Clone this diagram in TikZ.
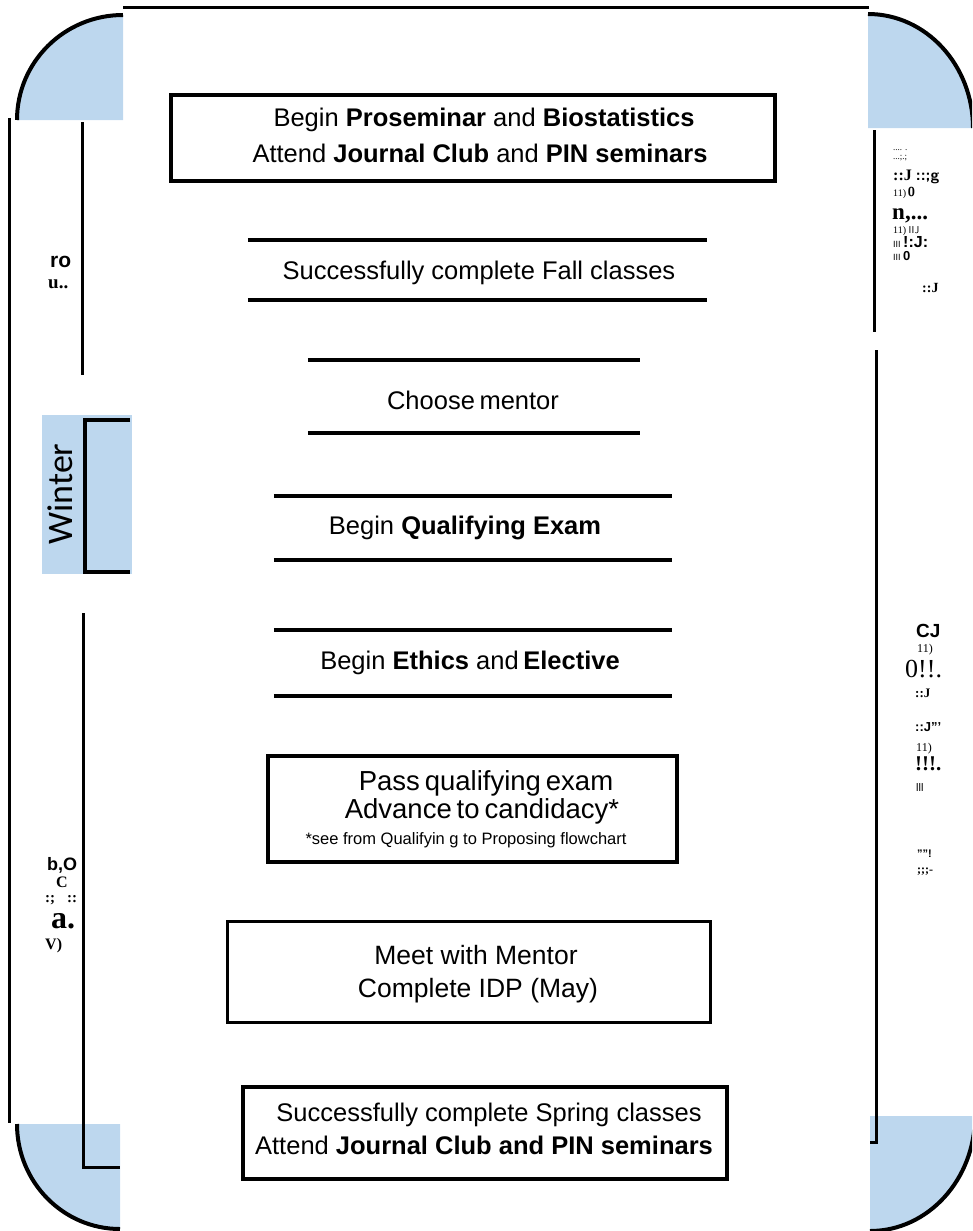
\documentclass[tikz,border=0pt]{standalone}
\usepackage{fontspec}
\setmainfont{Liberation Sans}
\newfontfamily\lserif{Liberation Serif}
\newfontfamily\carl{Carlito}
\definecolor{pale}{RGB}{189,215,238}
\newcommand\fs[1]{\fontsize{#1}{#1}\selectfont}
\newcommand\nsp{\hspace{0.18em}}

\begin{document}
\begin{tikzpicture}[x=1pt,y=-1pt,
  frame/.style={line width=3pt},
  rule/.style={line width=4pt},
  arcline/.style={line width=4pt},
  season/.style={fill=pale,draw=none},
  slot/.style={draw=none,inner sep=0pt},
  lbl/.style={inner sep=0pt,anchor=base,font=\fs{25.5}},
  junk/.style={inner sep=0pt,anchor=base west}]

\useasboundingbox (0,0) rectangle (972,1231);

% ---------- rounded season corners ----------
\begin{scope}
\clip (0,0) rectangle (972,1231);
\fill[season] (123,120) -- (17,120) arc[start angle=180,end angle=270,x radius=106,y radius=105] -- cycle;
\draw[arcline] (17,120) arc[start angle=180,end angle=270,x radius=106,y radius=105];
\fill[season] (868,128) -- (868,14) arc[start angle=270,end angle=360,x radius=105,y radius=114] -- cycle;
\draw[arcline] (868,14) arc[start angle=270,end angle=360,x radius=105,y radius=114];
\fill[season] (870,1116) -- (975,1116) arc[start angle=0,end angle=90,x radius=105,y radius=115] -- cycle;
\draw[arcline] (975,1116) arc[start angle=0,end angle=90,x radius=105,y radius=115];
\fill[season] (120,1124) -- (120,1229) arc[start angle=90,end angle=180,x radius=103,y radius=105] -- cycle;
\draw[arcline] (120,1229) arc[start angle=90,end angle=180,x radius=103,y radius=105];
\end{scope}

% ---------- frame lines ----------
\draw[frame] (123,8) -- (869,8);
\draw[frame] (9,118) -- (9,1123);
\draw[frame] (82,122) -- (82,375);
\draw[frame] (83,613) -- (83,1167) -- (120,1167);
\draw[frame] (874,130) -- (874,332);
\draw[frame] (876,350) -- (876,1142) -- (870,1142);

% ---------- winter tab ----------
\fill[season] (42,415) rectangle (132,574);
\draw[line width=3.5pt] (130,420) -- (85,420) -- (85,572) -- (130,572);
\node[inner sep=0pt,rotate=90,font=\carl\fs{36}] (winter) at (60,494) {Winter};

% ---------- step boxes ----------
\node[slot,minimum width=604pt,minimum height=86pt] (b1) at (473,138) {};
\draw[line width=3.5pt] (b1.north west) rectangle (b1.south east);
\node[lbl] (b1a) at (484,126) {Begin \textbf{Proseminar} and \textbf{Biostatistics}};
\node[lbl] (b1b) at (480,162) {Attend \textbf{Journal Club} and \textbf{PIN seminars}};

\node[slot,minimum width=459pt,minimum height=60pt] (b2) at (477.5,270) {};
\draw[rule] (b2.north west) -- (b2.north east) (b2.south west) -- (b2.south east);
\node[lbl] (b2a) at (479,279) {Successfully complete Fall classes};

\node[slot,minimum width=332pt,minimum height=73pt] (b3) at (474,396.5) {};
\draw[rule] (b3.north west) -- (b3.north east) (b3.south west) -- (b3.south east);
\node[lbl] (b3a) at (473,409) {Choose\nsp mentor};

\node[slot,minimum width=398pt,minimum height=64pt] (b4) at (473,528) {};
\draw[rule] (b4.north west) -- (b4.north east) (b4.south west) -- (b4.south east);
\node[lbl] (b4a) at (465,534) {Begin \textbf{Qualifying Exam}};

\node[slot,minimum width=398pt,minimum height=66pt] (b5) at (473,663) {};
\draw[rule] (b5.north west) -- (b5.north east) (b5.south west) -- (b5.south east);
\node[lbl] (b5a) at (470,669) {Begin \textbf{Ethics} and\nsp\textbf{Elective}};

\node[slot,minimum width=409pt,minimum height=106pt] (b6) at (472.5,809) {};
\draw[rule] (b6.north west) rectangle (b6.south east);
\node[lbl,font=\fs{27.5}] (b6a) at (486,790) {Pass\nsp qualifying\nsp exam};
\node[lbl,font=\fs{27.5}] (b6b) at (482,818) {Advance\nsp to\nsp candidacy*};
\node[lbl,font=\fs{16.5}] (b6c) at (466,844) {*see from Qualifyin g to Proposing flowchart};

\node[slot,minimum width=482pt,minimum height=100pt] (b7) at (469,972) {};
\draw[line width=3pt] (b7.north west) rectangle (b7.south east);
\node[lbl,font=\fs{26.5}] (b7a) at (476,964.5) {Meet with Mentor};
\node[lbl,font=\fs{26.5}] (b7b) at (478,997.5) {Complete IDP (May)};

\node[slot,minimum width=484pt,minimum height=92pt] (b8) at (485,1133) {};
\draw[rule] (b8.north west) rectangle (b8.south east);
\node[lbl] (b8a) at (489,1121) {Successfully complete Spring classes};
\node[lbl] (b8b) at (484,1154) {Attend \textbf{Journal Club and PIN seminars}};

% ---------- side season labels ----------
\node[junk,font=\lserif\fs{9}] (r1) at (893,150) {.... .};
\node[junk,font=\lserif\fs{9}] (r2) at (893,159) {...;.;};
\node[junk,font=\lserif\bfseries\fs{16}] (r3) at (893,180) {::J \textsf{::;g}};
\node[junk,font=\lserif\fs{10}] (r4) at (893,196) {11)\,\textsf{\bfseries\fs{13}0}};
\node[junk,font=\lserif\bfseries\fs{23}] (r5) at (892,219) {n,...};
\node[junk,font=\lserif\fs{10}] (r6) at (893,233) {11) \textsf{IIJ}};
\node[junk,font=\fs{9}] (r7) at (893,247) {III \textbf{\fs{16}!:J:}};
\node[junk,font=\fs{9}] (r8) at (893,260) {III \textbf{\fs{13}0}};
\node[junk,font=\lserif\bfseries\fs{14}] (r9) at (922,292) {::J};

\node[junk,font=\bfseries\fs{21}] (l1) at (50,267) {ro};
\node[junk,font=\lserif\bfseries\fs{19}] (l2) at (48,288) {u..};

\node[junk,font=\bfseries\fs{18}] (l3) at (47,870) {b,O};
\node[junk,font=\lserif\bfseries\fs{16}] (l4) at (56,887) {C};
\node[junk,font=\lserif\bfseries\fs{15}] (l5) at (45,902) {:;\hspace{12pt}::};
\node[junk,font=\lserif\bfseries\fs{32}] (l6) at (51,928) {a.};
\node[junk,font=\lserif\bfseries\fs{16}] (l7) at (45,949) {V)};

\node[junk,font=\bfseries\fs{19}] (m1) at (916,637) {CJ};
\node[junk,font=\lserif\fs{12}] (m2) at (917,652) {11)};
\node[junk,font=\lserif\fs{26}] (m3) at (905,677) {0!!.};
\node[junk,font=\lserif\bfseries\fs{13}] (m4) at (915,697) {::J};
\node[junk,font=\bfseries\fs{13}] (m5) at (915,731) {::J'''};
\node[junk,font=\lserif\fs{12}] (m6) at (916,751) {11)};
\node[junk,font=\lserif\bfseries\fs{21}] (m7) at (915,770) {!!!.};
\node[junk,font=\fs{11}] (m8) at (916,791) {lll};
\node[junk,font=\bfseries\fs{11}] (m9) at (917,857) {''''!};
\node[junk,font=\lserif\bfseries\fs{12}] (m10) at (917,873) {;;;-};
\end{tikzpicture}
\end{document}
